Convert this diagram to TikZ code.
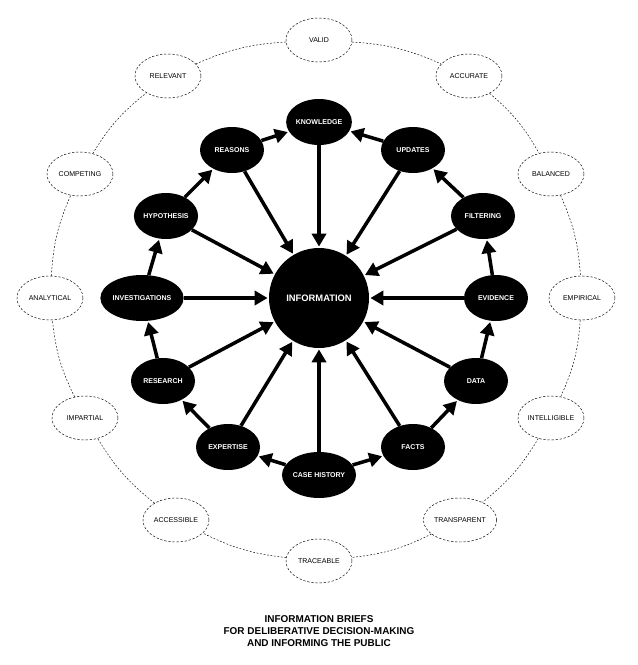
\documentclass[tikz,border=0pt]{standalone}
\usepackage{fontspec}
\setmainfont{Liberation Sans}
\usetikzlibrary{arrows.meta,shapes.geometric}
\begin{document}
\begin{tikzpicture}[x=0.03cm,y=-0.03cm,
  inner/.style={ellipse,fill=black,text=white,minimum width=64*0.03cm,minimum height=46*0.03cm,inner sep=0pt,font=\fontsize{6}{7}\selectfont\bfseries},
  outer/.style={ellipse,draw,dash pattern=on 2pt off 1.5pt,thin,minimum width=66*0.03cm,minimum height=44*0.03cm,inner sep=0pt,font=\fontsize{6}{7}\selectfont},
  ring/.style={dash pattern=on 1.5pt off 1.5pt,thin,bend left=10},
  flow/.style={line width=3pt,-{Triangle[length=11pt,width=12pt]},shorten >=1pt}]
\useasboundingbox (0,0) rectangle (638,665);

% Anneau extérieur
\node[outer] (valid) at (319,40) {VALID};
\node[outer] (accurate) at (469,76) {ACCURATE};
\node[outer] (balanced) at (551,174) {BALANCED};
\node[outer] (empirical) at (582,298) {EMPIRICAL};
\node[outer] (intelligible) at (551,418) {INTELLIGIBLE};
\node[outer] (transparent) at (460,520) {TRANSPARENT};
\node[outer] (traceable) at (319,561) {TRACEABLE};
\node[outer] (accessible) at (176,520) {ACCESSIBLE};
\node[outer] (impartial) at (85,418) {IMPARTIAL};
\node[outer] (analytical) at (50,298) {ANALYTICAL};
\node[outer] (competing) at (80,174) {COMPETING};
\node[outer] (relevant) at (168,76) {RELEVANT};

% Liens pointillés
\foreach \a/\b in {valid/accurate,accurate/balanced,balanced/empirical,empirical/intelligible,
  intelligible/transparent,transparent/traceable,traceable/accessible,accessible/impartial,
  impartial/analytical,analytical/competing,competing/relevant,relevant/valid}
  \draw[ring] (\a) to (\b);

% Centre et ellipses noires
\node[circle,fill=black,text=white,minimum size=100*0.03cm,font=\fontsize{8}{9}\selectfont\bfseries] (info) at (319,298) {INFORMATION};
\node[inner] (knowledge) at (319,122) {KNOWLEDGE};
\node[inner] (updates) at (413,150) {UPDATES};
\node[inner] (filtering) at (483,216) {FILTERING};
\node[inner] (evidence) at (496,298) {EVIDENCE};
\node[inner] (data) at (476,381) {DATA};
\node[inner] (facts) at (413,447) {FACTS};
\node[inner] (case) at (319,475) {CASE HISTORY};
\node[inner] (expertise) at (228,447) {EXPERTISE};
\node[inner] (research) at (163,381) {RESEARCH};
\node[inner,minimum width=72*0.03cm] (investigations) at (142,298) {INVESTIGATIONS};
\node[inner] (hypothesis) at (166,216) {HYPOTHESIS};
\node[inner] (reasons) at (232,150) {REASONS};

% Flèches vers le centre
\foreach \n in {knowledge,updates,filtering,evidence,data,facts,case,expertise,research,investigations,hypothesis,reasons}
  \draw[flow] (\n) -- (info);

% Flèches du pourtour
\foreach \a/\b in {case/expertise,expertise/research,research/investigations,investigations/hypothesis,
  hypothesis/reasons,reasons/knowledge,case/facts,facts/data,data/evidence,evidence/filtering,
  filtering/updates,updates/knowledge}
  \draw[flow] (\a) -- (\b);

% Titre
\node[font=\fontsize{8.5}{10.5}\selectfont\bfseries,align=center] (title) at (319,631)
  {INFORMATION BRIEFS\\FOR DELIBERATIVE DECISION-MAKING\\AND INFORMING THE PUBLIC};
\end{tikzpicture}
\end{document}
